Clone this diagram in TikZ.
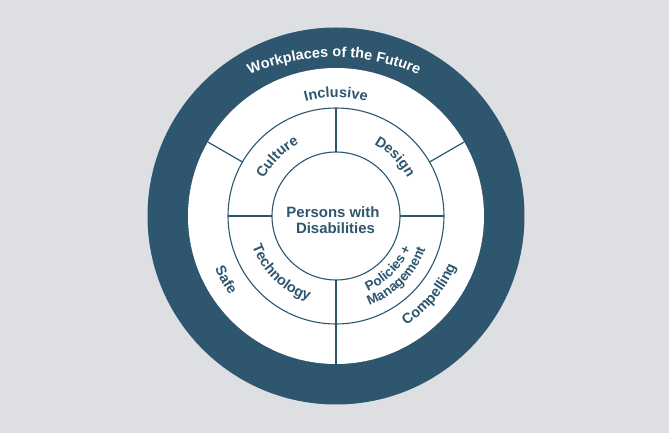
\documentclass[tikz,border=0pt]{standalone}
\usepackage{fontspec}
\setmainfont{Liberation Sans}
\usetikzlibrary{decorations.text,calc}
\definecolor{ringblue}{HTML}{2E566F}
\definecolor{bggray}{HTML}{DEDFE3}
\newcommand\curvefont{\fontsize{14.5}{17}\selectfont\bfseries}
\newcommand\smallcurvefont{\fontsize{13.5}{16}\selectfont\bfseries}
\newcommand\centerfont{\fontsize{15}{17}\selectfont\bfseries}
\tikzset{
  divider/.style={draw=ringblue, line width=1.2bp},
  ringline/.style={draw=ringblue, line width=1.1bp},
  topcurve/.style={decorate, decoration={text along path, text align=center, text={#1}}},
}
\begin{document}
\begin{tikzpicture}[x=1bp,y=1bp]
\useasboundingbox (-336,-217) rectangle (333,216);
\fill[bggray] (-336,-217) rectangle (333,216);
% rings
\fill[ringblue] (0,0) circle[radius=188.5];
\fill[white] (0,0) circle[radius=148];
\draw[ringline] (0,0) circle[radius=108];
\draw[ringline] (0,0) circle[radius=64];
% dividers
\coordinate (c) at (0,0);
\draw[divider] (90:64) -- (90:108);
\draw[divider] (180:64) -- (180:108);
\draw[divider] (0:64) -- (0:108);
\draw[divider] (270:64) -- (270:148);
\draw[divider] (150:108) -- (150:148);
\draw[divider] (30:108) -- (30:148);
% outer ring title
\path[topcurve={|\color{white}\curvefont|Workplaces of the Future}]
  ($(-2,-50)+(125:209)$) arc[start angle=125, end angle=55, radius=209];
% white ring labels
\path[topcurve={|\color{ringblue}\curvefont|Inclusive}]
  (130:118.5) arc[start angle=130, end angle=50, radius=118.5];
\path[topcurve={|\color{ringblue}\curvefont|Safe}]
  (185:132) arc[start angle=185, end angle=235, radius=132];
\path[topcurve={|\color{ringblue}\curvefont|Compelling}]
  (-80:130) arc[start angle=-80, end angle=0, radius=130];
% middle ring labels
\path[topcurve={|\color{ringblue}\curvefont|Culture}]
  (175:81) arc[start angle=175, end angle=95, radius=81];
\path[topcurve={|\color{ringblue}\curvefont|Design}]
  (85:81) arc[start angle=85, end angle=5, radius=81];
\path[topcurve={|\color{ringblue}\curvefont|Technology}]
  (166:89) arc[start angle=166, end angle=286, radius=89];
\path[topcurve={|\color{ringblue}\smallcurvefont|Policies +}]
  (-90:81.5) arc[start angle=-90, end angle=0, radius=81.5];
\path[topcurve={|\color{ringblue}\smallcurvefont|Management}]
  (-95:95.5) arc[start angle=-95, end angle=5, radius=95.5];
% centre
\node[anchor=base, inner sep=0, text=ringblue, font=\centerfont] (pw) at (-3,-1.3) {Persons with};
\node[anchor=base, inner sep=0, text=ringblue, font=\centerfont] (dis) at (-0.5,-18) {Disabilities};
\end{tikzpicture}
\end{document}
